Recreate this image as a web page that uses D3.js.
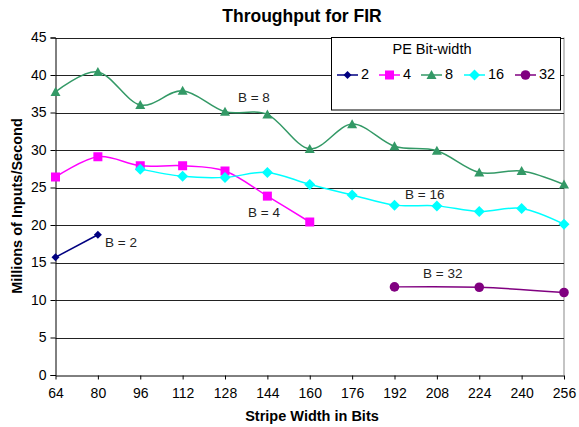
<!DOCTYPE html>
<html><head><meta charset="utf-8">
<script src="https://cdn.jsdelivr.net/npm/d3@7"></script>
<style>body{margin:0;background:#fff}svg{display:block;font-family:Arial,"Liberation Sans",sans-serif}</style>
</head><body><svg id="c" width="579" height="427"></svg>
<script>
const xTicks = [64,80,96,112,128,144,160,176,192,208,224,240,256];
const yTicks = [0,5,10,15,20,25,30,35,40,45];
const seriesNames = ["2","4","8","16","32"];
const x2 = [64,80];
const v2 = [15.7,18.7];
const x4 = [64,80,96,112,128,144,160];
const v4 = [26.4,29.1,27.9,27.9,27.2,23.85,20.4];
const x8 = [64,80,96,112,128,144,160,176,192,208,224,240,256];
const v8 = [37.75,40.4,36.0,37.9,35.1,34.75,30.15,33.45,30.5,29.9,27.0,27.2,25.4];
const x16 = [96,112,128,144,160,176,192,208,224,240,256];
const v16 = [27.45,26.5,26.35,27.0,25.4,24.0,22.65,22.55,21.8,22.2,20.1];
const x32 = [192,224,256];
const v32 = [11.75,11.7,11.0];
const labels = ["B = 2","B = 4","B = 8","B = 16","B = 32"];
const labelPos = [[82.7,17.5],[136.7,21.5],[132.9,36.9],[196,24.0],[202.8,13.4]];

const svg = d3.select("#c");
const x = d3.scaleLinear().domain([64,256]).range([55.5,564]);
const y = d3.scaleLinear().domain([0,45]).range([375,37.5]);

// plot border (gray right)
svg.append("line").attr("x1",564).attr("x2",564).attr("y1",37.5).attr("y2",375).attr("stroke","#b0b0b0").attr("stroke-width",1.5);
// gridlines
svg.append("g").selectAll("line").data(yTicks.filter(d=>d>0)).join("line")
  .attr("x1",55.5).attr("x2",564).attr("y1",d=>Math.round(y(d))+0.5).attr("y2",d=>Math.round(y(d))+0.5)
  .attr("stroke","#222").attr("stroke-width",1);

const yAxis = svg.append("g").attr("transform","translate(55.5,0)")
  .call(d3.axisLeft(y).tickValues(yTicks).tickSize(5).tickPadding(4));
yAxis.select(".domain").attr("stroke","#000");
yAxis.selectAll("text").attr("font-size",14).attr("font-family","Arial, Liberation Sans").attr("fill","#000");
const xAxis = svg.append("g").attr("transform","translate(0,375.5)")
  .call(d3.axisBottom(x).tickValues(xTicks).tickSize(4).tickSizeOuter(0).tickPadding(9));
xAxis.select(".domain").attr("stroke","#000");
xAxis.selectAll("text").attr("font-size",14).attr("font-family","Arial, Liberation Sans").attr("fill","#000");

const colors = ["#000080","#FF00FF","#339966","#00FFFF","#800080"];
const xs = [x2,x4,x8,x16,x32];
const vs = [v2,v4,v8,v16,v32];
const line = d3.line().x(d=>x(d[0])).y(d=>y(d[1])).curve(d3.curveCatmullRom.alpha(0));

function marker(g, i, cx, cy){
  const c = colors[i];
  if(i===0) g.append("path").attr("d",`M${cx},${cy-4}L${cx+4},${cy}L${cx},${cy+4}L${cx-4},${cy}Z`).attr("fill",c);
  else if(i===1) g.append("rect").attr("x",cx-4.5).attr("y",cy-4.5).attr("width",9).attr("height",9).attr("fill",c);
  else if(i===2) g.append("path").attr("d",`M${cx},${cy-5}L${cx+5},${cy+4}L${cx-5},${cy+4}Z`).attr("fill",c);
  else if(i===3) g.append("path").attr("d",`M${cx},${cy-5.5}L${cx+5.5},${cy}L${cx},${cy+5.5}L${cx-5.5},${cy}Z`).attr("fill",c);
  else g.append("circle").attr("cx",cx).attr("cy",cy).attr("r",4.8).attr("fill",c);
}

xs.forEach((xv,i)=>{
  const pts = xv.map((d,j)=>[d,vs[i][j]]);
  const g = svg.append("g");
  g.append("path").attr("d",line(pts)).attr("fill","none").attr("stroke",colors[i]).attr("stroke-width",1.5);
  pts.forEach(p=>marker(g,i,x(p[0]),y(p[1])));
});

// series labels
svg.append("g").selectAll("text").data(labels).join("text")
  .attr("x",(d,i)=>x(labelPos[i][0])).attr("y",(d,i)=>y(labelPos[i][1]))
  .attr("font-size",13.5).attr("fill","#222").attr("dominant-baseline","middle").text(d=>d);

// legend
const lg = svg.append("g");
lg.append("rect").attr("x",331.5).attr("y",37.5).attr("width",229).attr("height",72.5).attr("fill","#fff").attr("stroke","#000").attr("stroke-width",1);
lg.append("text").attr("x",432).attr("y",54).attr("text-anchor","middle").attr("font-size",14.5).attr("fill","#000").text("PE Bit-width");
const lx = [337,379,421,464,515];
seriesNames.forEach((n,i)=>{
  const ly = 75;
  lg.append("line").attr("x1",lx[i]).attr("x2",lx[i]+21).attr("y1",ly).attr("y2",ly).attr("stroke",colors[i]).attr("stroke-width",1.5);
  marker(lg,i,lx[i]+10.5,ly);
  lg.append("text").attr("x",lx[i]+24).attr("y",ly).attr("dominant-baseline","middle").attr("font-size",14.5).attr("fill","#000").text(n);
});

// titles
svg.append("text").attr("x",302).attr("y",22).attr("text-anchor","middle").attr("font-size",17.5).attr("font-weight","bold").text("Throughput for FIR");
svg.append("text").attr("x",312).attr("y",417).attr("text-anchor","middle").attr("dominant-baseline","middle").attr("font-size",14.5).attr("font-weight","bold").text("Stripe Width in Bits");
svg.append("text").attr("transform","translate(18,206) rotate(-90)").attr("text-anchor","middle").attr("dominant-baseline","middle").attr("font-size",14.5).attr("font-weight","bold").text("Millions of Inputs/Second");
</script></body></html>
